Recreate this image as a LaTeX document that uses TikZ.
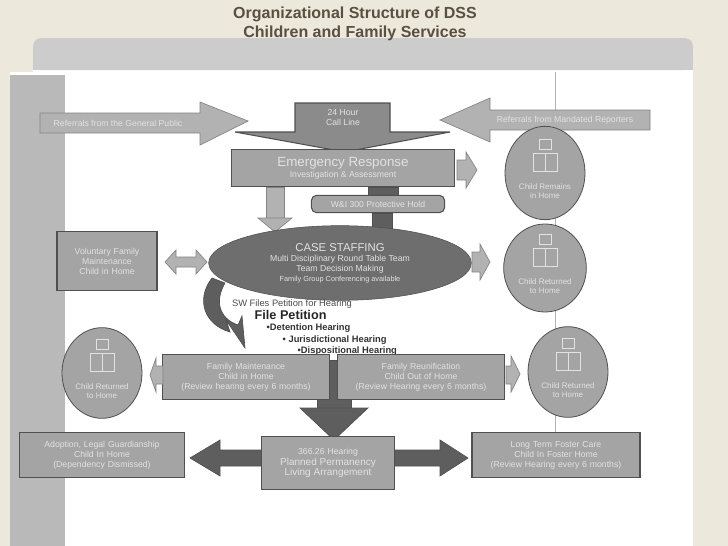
\documentclass[tikz,border=0pt]{standalone}
\usepackage{fontspec}
\setmainfont{Liberation Sans}
\usetikzlibrary{shapes.geometric,shapes.arrows,arrows.meta}
\definecolor{bg}{HTML}{ECE8DC}
\definecolor{tile}{HTML}{A4A4A4}
\definecolor{edge}{HTML}{505050}
\definecolor{ttl}{HTML}{5A5040}
\definecolor{txt}{HTML}{E2E2E2}
\definecolor{darkar}{HTML}{5E5E5E}
\begin{document}
\begin{tikzpicture}[x=0.75pt,y=-0.75pt,
  box/.style={draw=edge,line width=1.2pt,fill=tile,text=txt,align=center,font=\fontsize{6.5}{7.5}\selectfont,inner sep=1pt},
  circ/.style={draw=edge,line width=0.6pt,fill=tile,text=txt,align=center,font=\fontsize{6}{7}\selectfont,ellipse,inner sep=0pt},
  lar/.style={fill=tile!85!white,draw=edge!70,line width=0.5pt},
  dar/.style={fill=darkar,draw=edge,line width=0.5pt},
  icon/.style={draw=txt,line width=0.5pt},
  lbl/.style={text=txt,font=\fontsize{6.5}{7.5}\selectfont,align=center}]
\useasboundingbox (0,0) rectangle (728,546);
\fill[bg] (0,0) rectangle (728,546);
\fill[white,rounded corners=6pt] (33,38) rectangle (693,560);
\fill[gray!40,rounded corners=6pt] (33,38) rectangle (693,70);
\fill[gray!40] (33,60) rectangle (693,70);
\node[font=\bfseries\fontsize{12}{14}\selectfont,text=ttl,align=center] (title) at (355,24) {Organizational Structure of DSS\\Children and Family Services};
% scan area
\fill[white] (10,72) rectangle (640,546);
\fill[gray!55] (10,75) rectangle (65,546);
\draw[gray!60,line width=0.6pt] (555,72) -- (555,460);
% top arrows
\fill[lar] (40,113) -- (200,113) -- (200,102) -- (248,121) -- (200,145) -- (200,133) -- (40,133) -- cycle;
\node[lbl] (refgp) at (118,123) {Referrals from the General Public};
\fill[lar] (650,110) -- (490,110) -- (490,98) -- (440,120) -- (490,142) -- (490,130) -- (650,130) -- cycle;
\node[lbl] (refmr) at (565,120) {Referrals from Mandated Reporters};
% 24 hour
\fill[tile!85!black,draw=edge,line width=0.8pt] (295,103) -- (390,103) -- (390,132) -- (450,132) -- (345,152) -- (235,132) -- (295,132) -- cycle;
\node[lbl] (hour) at (343,118) {24 Hour\\Call Line};
\node[box,minimum width=167pt,minimum height=28pt] (er) at (343,168) {\fontsize{10}{11}\selectfont Emergency Response\\[1pt]\fontsize{6.5}{7.5}\selectfont Investigation \& Assessment};
\fill[lar] (457,160) -- (466,160) -- (466,152) -- (477,170) -- (466,188) -- (466,180) -- (457,180) -- cycle;
% circles
\foreach \n/\cx/\cy/\w/\h/\t in {c1/545/173/60/70/{Child Remains\\in Home},c2/545/268/62/66/{Child Returned\\to Home},c3/102/373/60/68/{Child Returned\\to Home},c4/568/372/60/68/{Child Returned\\to Home}}{
  \node[circ,minimum width=\w pt,minimum height=\h pt] (\n) at (\cx,\cy) {};
  \node[lbl,font=\fontsize{6}{7}\selectfont] (\n t) at (\cx,\cy+18) {\t};
  \draw[icon] (\cx-6,\cy-34) rectangle (\cx+6,\cy-24);
  \draw[icon] (\cx-12,\cy-20) rectangle (\cx+12,\cy-2);
  \draw[icon] (\cx,\cy-20) -- (\cx,\cy-2);
}
% W&I
\fill[dar] (368,187) rectangle (398,195);
\node[box,rounded corners=4pt,line width=0.8pt,minimum width=100pt,minimum height=13pt] (wi) at (378,204) {W\&I 300 Protective Hold};
\fill[dar] (372,213) rectangle (392,228);
\fill[lar] (266,187) rectangle (284,218);
\fill[lar] (258,218) -- (292,218) -- (275,232) -- cycle;
% case staffing
\node[ellipse,fill=darkar!90,draw=edge,minimum width=197pt,minimum height=56pt,text=txt,align=center,font=\fontsize{6.5}{7.5}\selectfont,inner sep=0pt] (cs) at (340,263) {\fontsize{8.5}{9.5}\selectfont CASE STAFFING\\Multi Disciplinary Round Table Team\\Team Decision Making\\\fontsize{5.5}{6.5}\selectfont Family Group Conferencing available};
\node[box,minimum width=75pt,minimum height=44pt,text width=68pt] (vol) at (107,261) {Voluntary Family\\Maintenance\\Child in Home};
\fill[lar] (165,262) -- (176,250) -- (176,257) -- (196,257) -- (196,250) -- (207,262) -- (196,274) -- (196,267) -- (176,267) -- (176,274) -- cycle;
\fill[lar] (472,252) -- (480,252) -- (480,244) -- (490,262) -- (480,280) -- (480,272) -- (472,272) -- cycle;
% curved arrow
\node[font=\fontsize{7}{8}\selectfont,text=gray!60!black] (sw) at (292,304) {SW Files Petition for Hearing};
\fill[dar] (212,278) .. controls (195,300) and (205,325) .. (230,332) -- (226,320) -- (245,348) -- (242,316) -- (238,325) .. controls (218,318) and (215,300) .. (225,283) -- cycle;
\node[font=\bfseries\fontsize{9.5}{10}\selectfont,anchor=west,text=black!85] (fp) at (250,315) {File Petition};
\node[font=\bfseries\fontsize{7}{8}\selectfont,anchor=west,text=black!80] (h1) at (262,328) {•Detention Hearing};
\node[font=\bfseries\fontsize{7}{8}\selectfont,anchor=west,text=black!80] (h2) at (278,340) {• Jurisdictional Hearing};
\node[font=\bfseries\fontsize{7}{8}\selectfont,anchor=west,text=black!80] (h3) at (293,351) {•Dispositional Hearing};
% mid boxes
\fill[dar] (317,360) rectangle (351,410);
\fill[dar] (300,408) -- (368,408) -- (334,440) -- cycle;
\node[box,minimum width=125pt,minimum height=34pt,text width=120pt] (fm) at (246,377) {Family Maintenance\\Child in Home\\(Review hearing every 6 months)};
\node[box,minimum width=125pt,minimum height=34pt,text width=120pt] (fr) at (421,377) {Family Reunification\\Child Out of Home\\(Review Hearing every 6 months)};
\fill[lar] (163,366) -- (156,366) -- (156,358) -- (150,375) -- (156,392) -- (156,384) -- (163,384) -- cycle;
\fill[lar] (506,366) -- (511,366) -- (511,356) -- (520,374) -- (511,392) -- (511,384) -- (506,384) -- cycle;
% bottom
\fill[dar] (190,458) -- (220,440) -- (220,450) -- (265,450) -- (265,466) -- (220,466) -- (220,476) -- cycle;
\fill[dar] (468,458) -- (440,440) -- (440,450) -- (392,450) -- (392,466) -- (440,466) -- (440,476) -- cycle;
\node[box,minimum width=124pt,minimum height=34pt,text width=120pt] (ad) at (102,455) {Adoption, Legal Guardianship\\Child In Home\\(Dependency Dismissed)};
\node[box,minimum width=100pt,minimum height=40pt,text width=96pt] (pp) at (328,463) {366.26 Hearing\\\fontsize{7.5}{8.5}\selectfont Planned Permanency\\Living Arrangement};
\node[box,minimum width=126pt,minimum height=34pt,text width=120pt] (lt) at (556,455) {Long Term Foster Care\\Child In Foster Home\\(Review Hearing every 6 months)};
\end{tikzpicture}
\end{document}
